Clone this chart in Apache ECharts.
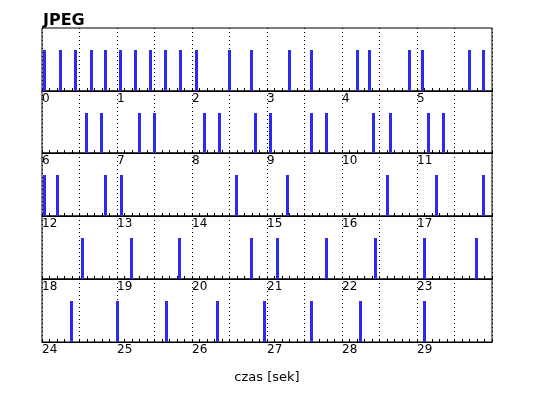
<!DOCTYPE html>
<html>
<head>
<meta charset="utf-8">
<script src="https://cdn.jsdelivr.net/npm/echarts@6/dist/echarts.min.js"></script>
<style>
  html, body { margin: 0; padding: 0; background: #fff; }
  #main { width: 538px; height: 398px; }
</style>
</head>
<body>
<div id="main"></div>
<script>
// momenty pojawienia się ramek JPEG [s], po jednym wierszu na 6 sekund
var row0 = [0.03, 0.24, 0.44, 0.66, 0.84, 1.04, 1.24, 1.44, 1.64, 1.84, 2.06, 2.50, 2.79,
            3.30, 3.59, 4.20, 4.36, 4.90, 5.07, 5.70, 5.88];
var row1 = [6.59, 6.79, 7.30, 7.50, 8.16, 8.36, 8.84, 9.05, 9.59, 9.79, 10.42, 10.65, 11.15, 11.35];
var row2 = [12.03, 12.21, 12.84, 13.06, 14.59, 15.27, 16.60, 17.26, 17.88];
var row3 = [18.54, 19.19, 19.83, 20.79, 21.14, 21.79, 22.44, 23.10, 23.79];
var row4 = [24.39, 25.01, 25.66, 26.34, 26.97, 27.59, 28.24, 29.10];
var rows = [row0, row1, row2, row3, row4];
var rowStart = [0, 6, 12, 18, 24];
var rowLen = 6;

var myChart = echarts.init(document.getElementById('main'));

// pionowa kreska dla kazdej ramki
function renderFrame(params, api) {
    var p0 = api.coord([api.value(0), 0]);
    var p1 = api.coord([api.value(0), api.value(1)]);
    return {
        type: 'rect',
        shape: { x: Math.round(p0[0] - 1.5), y: Math.round(p1[1]), width: 3, height: Math.round(p0[1]) - Math.round(p1[1]) },
        style: { fill: '#2a2af0' }
    };
}

var grids = [], xAxes = [], yAxes = [], series = [];
var tops = [28, 91, 153, 216, 279, 342];
for (var i = 0; i < rows.length; i++) {
    grids.push({
        left: 42, right: 46, top: tops[i], height: tops[i + 1] - tops[i],
        show: true, borderColor: '#000', borderWidth: 1, backgroundColor: 'transparent'
    });
    xAxes.push({
        type: 'value', gridIndex: i,
        min: rowStart[i], max: rowStart[i] + rowLen, interval: 0.5,
        axisLine: { show: true, lineStyle: { color: '#000' } },
        axisTick: { show: true, inside: true, length: 3, lineStyle: { color: '#000' } },
        minorTick: { show: true, splitNumber: 5, length: 3, lineStyle: { color: '#000' } },
        splitLine: { show: true, lineStyle: { color: '#000', type: [1, 3], width: 1 } },
        axisLabel: {
            show: true, showMaxLabel: false, align: 'left', margin: 2,
            color: '#000', fontFamily: 'DejaVu Sans', fontSize: 12,
            formatter: function (v) {
                return Math.abs(v - Math.round(v)) < 1e-6 ? String(Math.round(v)) : '';
            }
        },
        name: i === rows.length - 1 ? 'czas [sek]' : '',
        nameLocation: 'middle', nameGap: 29,
        nameTextStyle: { color: '#000', fontFamily: 'DejaVu Sans', fontSize: 13 }
    });
    yAxes.push({ type: 'value', gridIndex: i, min: 0, max: 1.54, show: false });
    series.push({
        type: 'custom', xAxisIndex: i, yAxisIndex: i,
        renderItem: renderFrame,
        encode: { x: 0, y: 1 },
        data: rows[i].map(function (t) { return [t, 1]; })
    });
}

option = {
    animation: false,
    backgroundColor: '#fff',
    title: {
        text: 'JPEG', left: 38, top: 8,
        textStyle: { color: '#000', fontFamily: 'DejaVu Sans', fontWeight: 'bold', fontSize: 16 }
    },
    grid: grids,
    xAxis: xAxes,
    yAxis: yAxes,
    series: series
};
myChart.setOption(option);
</script>
</body>
</html>
